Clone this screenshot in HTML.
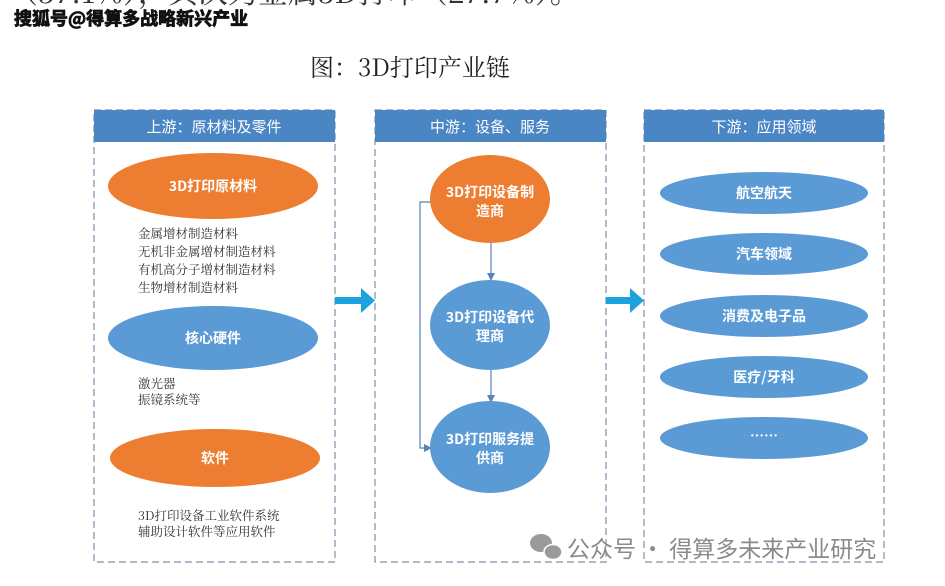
<!DOCTYPE html>
<html><head><meta charset="utf-8"><style>
body{margin:0;background:#fff;width:945px;height:586px;overflow:hidden;font-family:"Liberation Sans","Noto Sans CJK SC",sans-serif;}
</style></head><body>
<svg width="945" height="586" xmlns="http://www.w3.org/2000/svg" style="position:absolute;left:0;top:0">
<defs>
<marker id="ah" markerWidth="8" markerHeight="8" refX="7" refY="4" orient="auto" markerUnits="userSpaceOnUse"><path d="M0,0 L8,4 L0,8 z" fill="#5b82b5"/></marker>
</defs>
<text x="8" y="3" font-family="Noto Serif CJK SC,serif" font-size="30" fill="#333">（57.1%），其次为金属3D打印（27.7%）。</text>
<text x="14" y="25" font-family="Noto Sans CJK SC,sans-serif" font-weight="bold" font-size="18" fill="#111" stroke="#111" stroke-width="0.8">搜狐号@得算多战略新兴产业</text>
<text x="310" y="76" font-family="Noto Serif CJK SC,serif" font-size="24" fill="#222">图：3D打印产业链</text>

<g fill="none" stroke="#7f8fa6" stroke-width="1.2" stroke-dasharray="7,4">
<rect x="94" y="110" width="241" height="452"/>
<rect x="375" y="110" width="231" height="452"/>
<rect x="644" y="110" width="240" height="452"/>
</g>
<g fill="#4a86c4">
<rect x="94" y="110" width="241" height="32"/>
<rect x="375" y="110" width="231" height="32"/>
<rect x="644" y="110" width="240" height="32"/>
</g>
<g font-family="Noto Sans CJK SC,sans-serif" font-size="15" fill="#fff" text-anchor="middle">
<text x="214" y="132">上游：原材料及零件</text>
<text x="490" y="132">中游：设备、服务</text>
<text x="764" y="132">下游：应用领域</text>
</g>

<ellipse cx="213" cy="186" rx="105" ry="33" fill="#ed7d31"/>
<ellipse cx="213" cy="338" rx="105" ry="32" fill="#5b9bd5"/>
<ellipse cx="215" cy="458" rx="105" ry="29" fill="#ed7d31"/>
<g font-family="Noto Sans CJK SC,sans-serif" font-weight="bold" font-size="14" fill="#fff" text-anchor="middle">
<text x="213" y="191">3D打印原材料</text>
<text x="213" y="343">核心硬件</text>
<text x="215" y="463">软件</text>
</g>
<g font-family="Noto Serif CJK SC,serif" font-size="12.5" fill="#333">
<text x="138" y="238">金属增材制造材料</text>
<text x="138" y="256">无机非金属增材制造材料</text>
<text x="138" y="274">有机高分子增材制造材料</text>
<text x="138" y="292">生物增材制造材料</text>
<text x="138" y="388">激光器</text>
<text x="138" y="404">振镜系统等</text>
<text x="138" y="520">3D打印设备工业软件系统</text>
<text x="138" y="536">辅助设计软件等应用软件</text>
</g>

<path d="M335,297 H361 V288 L375,300.5 L361,313 V304 H335 Z" fill="#1ea2dd"/>
<path d="M606,297 H630 V288 L644,300.5 L630,313 V304 H606 Z" fill="#1ea2dd"/>

<g stroke="#5b82b5" stroke-width="1.2" fill="none">
<line x1="491" y1="243" x2="491" y2="280" marker-end="url(#ah)"/>
<line x1="491" y1="370" x2="491" y2="402" marker-end="url(#ah)"/>
<polyline points="432,202 420,202 420,448 431,448" marker-end="url(#ah)"/>
</g>
<ellipse cx="490" cy="199" rx="60" ry="44" fill="#ed7d31"/>
<ellipse cx="490" cy="325" rx="60" ry="45" fill="#5b9bd5"/>
<ellipse cx="490" cy="447" rx="60" ry="46" fill="#5b9bd5"/>
<g font-family="Noto Sans CJK SC,sans-serif" font-weight="bold" font-size="14" fill="#fff" text-anchor="middle">
<text x="490" y="197">3D打印设备制</text><text x="490" y="216">造商</text>
<text x="490" y="322">3D打印设备代</text><text x="490" y="341">理商</text>
<text x="490" y="444">3D打印服务提</text><text x="490" y="463">供商</text>
</g>

<g fill="#5b9bd5">
<ellipse cx="764" cy="193" rx="104" ry="21"/>
<ellipse cx="764" cy="254" rx="104" ry="21"/>
<ellipse cx="764" cy="316" rx="104" ry="21"/>
<ellipse cx="764" cy="377" rx="104" ry="21"/>
<ellipse cx="764" cy="438" rx="104" ry="21"/>
</g>
<g font-family="Noto Sans CJK SC,sans-serif" font-weight="bold" font-size="14" fill="#fff" text-anchor="middle">
<text x="764" y="198">航空航天</text>
<text x="764" y="259">汽车领域</text>
<text x="764" y="321">消费及电子品</text>
<text x="764" y="382">医疗/牙科</text>
<text x="764" y="441">……</text>
</g>

<g fill="#9a9a9a">
<ellipse cx="541" cy="543" rx="11" ry="9"/>
<ellipse cx="553" cy="552" rx="9" ry="7.5" stroke="#fff" stroke-width="1.5"/>
</g>
<text x="567" y="557" font-family="Noto Sans CJK SC,sans-serif" font-size="23" fill="#8a8a8a">公众号 · 得算多未来产业研究</text>
</svg>
</body></html>
